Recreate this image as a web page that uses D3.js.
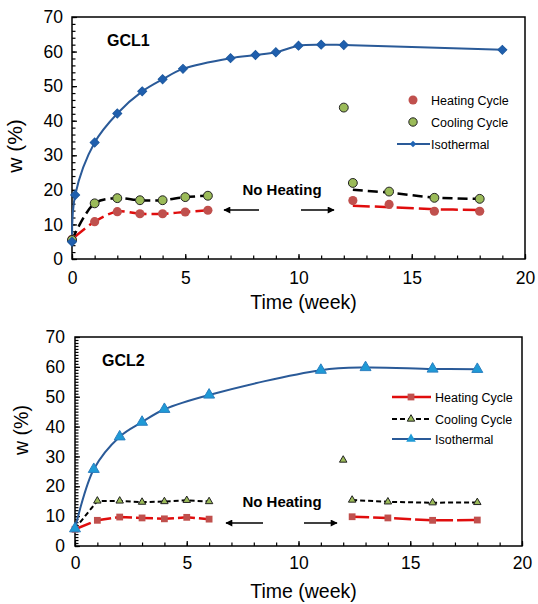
<!DOCTYPE html>
<html>
<head>
<meta charset="utf-8">
<script src="https://cdn.jsdelivr.net/npm/d3@7"></script>
<style>
  body { margin: 0; background: #fff; }
  svg { font-family: "Liberation Sans", Arial, sans-serif; }
</style>
</head>
<body>
<svg id="vis" width="538" height="604"></svg>
<script>
const gcl1IsoWeek = [0, 0.14, 1, 2, 3.1, 4, 4.9, 7, 8.1, 9, 10, 11, 12, 19];
const gcl1IsoW = [5, 18.5, 33.7, 42.1, 48.5, 52, 55, 58.1, 59, 59.8, 61.7, 62, 61.9, 60.5];
const gcl1HeatWeek = [0, 1, 2, 3, 4, 5, 6, 12.4, 14, 16, 18];
const gcl1HeatW = [5.7, 10.8, 13.7, 13.1, 13.1, 13.6, 14.1, 16.9, 15.8, 13.8, 13.8];
const gcl1CoolWeek = [0, 1, 2, 3, 4, 5, 6, 12, 12.4, 14, 16, 18];
const gcl1CoolW = [5.5, 16.1, 17.6, 17.0, 17.0, 17.9, 18.3, 43.8, 22.0, 19.5, 17.7, 17.4];
// dashed fits after the heating break
const gcl1HeatFitWeek = [12.4, 14, 16, 18];
const gcl1HeatFitW = [15.4, 15.0, 14.4, 14.2];
const gcl1CoolFitWeek = [12.4, 14, 16, 18];
const gcl1CoolFitW = [20.0, 19.2, 17.8, 17.4];

const gcl2IsoWeek = [0, 0.84, 2, 3, 4, 6, 11, 13, 16, 18];
const gcl2IsoW = [5.8, 25.7, 36.6, 41.5, 45.8, 50.6, 58.9, 59.8, 59.3, 59.2];
const gcl2HeatWeek = [0, 1, 2, 3, 4, 5, 6, 12.4, 14, 16, 18];
const gcl2HeatW = [5.6, 8.6, 9.7, 9.4, 9.1, 9.6, 9.0, 9.8, 9.4, 8.6, 8.7];
const gcl2CoolWeek = [0, 1, 2, 3, 4, 5, 6, 12, 12.4, 14, 16, 18];
const gcl2CoolW = [5.8, 15.1, 15.1, 14.7, 14.9, 15.3, 14.9, 28.8, 15.4, 14.8, 14.5, 14.6];

const xTicks = [0, 5, 10, 15, 20];
const yTicks = [0, 10, 20, 30, 40, 50, 60, 70];
const legendLabels = ['Heating Cycle', 'Cooling Cycle', 'Isothermal'];

const zip = (xs, ys) => xs.map((x, i) => [x, ys[i]]);

const red = '#c0504d', redLine = '#e00d0d', green = '#9bbb59', blueLine = '#2a5a98';

const svg = d3.select('#vis');

svg.append('defs').append('marker')
    .attr('id', 'arrow')
    .attr('viewBox', '0 0 10 10')
    .attr('refX', 9).attr('refY', 5)
    .attr('markerWidth', 9).attr('markerHeight', 7)
    .attr('markerUnits', 'userSpaceOnUse')
    .attr('orient', 'auto')
  .append('path')
    .attr('d', 'M0,0 L10,5 L0,10 Z')
    .attr('fill', '#000');

function panel(cfg) {
  const x = d3.scaleLinear().domain([0, 20]).range([cfg.left, cfg.right]);
  const y = d3.scaleLinear().domain([0, 70]).range([cfg.bottom, cfg.top]);
  const g = svg.append('g');

  g.append('g')
      .attr('transform', 'translate(0,' + cfg.bottom + ')')
      .call(d3.axisBottom(x).tickValues(d3.range(0, 21)).tickSize(-3.5).tickFormat(''))
      .call(a => a.select('.domain').remove());
  g.append('g')
      .attr('transform', 'translate(0,' + cfg.bottom + ')')
      .call(d3.axisBottom(x).tickValues(xTicks).tickSize(-5).tickPadding(cfg.xPad))
      .call(a => a.select('.domain').remove())
      .call(a => a.selectAll('text').attr('font-size', 17.5).attr('fill', '#000').attr('font-family', null));
  g.append('g')
      .attr('transform', 'translate(' + cfg.left + ',0)')
      .call(d3.axisLeft(y).tickValues(d3.range(0, 71, cfg.yMinor)).tickSize(-3.5).tickFormat(''))
      .call(a => a.select('.domain').remove());
  g.append('g')
      .attr('transform', 'translate(' + cfg.left + ',0)')
      .call(d3.axisLeft(y).tickValues(yTicks).tickSize(-5).tickPadding(cfg.yPad))
      .call(a => a.select('.domain').remove())
      .call(a => a.selectAll('text').attr('font-size', 17.5).attr('fill', '#000').attr('font-family', null));
  g.selectAll('.tick line').attr('stroke', '#000').attr('stroke-width', 1.2);

  g.append('rect')
      .attr('x', cfg.left).attr('y', cfg.top)
      .attr('width', cfg.right - cfg.left).attr('height', cfg.bottom - cfg.top)
      .attr('fill', 'none').attr('stroke', '#000').attr('stroke-width', 1.5);

  g.append('text')
      .attr('x', (cfg.left + cfg.right) / 2 + 5).attr('y', cfg.titleY)
      .attr('text-anchor', 'middle').attr('font-size', 19.5)
      .text('Time (week)');
  g.append('text')
      .attr('transform', 'translate(' + cfg.yTitleX + ',' + cfg.yTitleY + ') rotate(-90)')
      .attr('text-anchor', 'middle').attr('font-size', cfg.yTitleSize)
      .text('w (%)');

  g.append('text')
      .attr('x', cfg.nameX).attr('y', cfg.nameY)
      .attr('font-size', 16).attr('font-weight', 'bold')
      .text(cfg.name);

  g.append('text')
      .attr('x', 282).attr('y', cfg.noHeatY)
      .attr('text-anchor', 'middle').attr('font-size', 15).attr('font-weight', 'bold')
      .text('No Heating');
  g.selectAll('line.arrow')
    .data([[cfg.arrowL[1], cfg.arrowL[0]], [cfg.arrowR[0], cfg.arrowR[1]]])
    .enter()
    .append('line')
      .classed('arrow', true)
      .attr('x1', d => d[0]).attr('x2', d => d[1])
      .attr('y1', cfg.arrowY).attr('y2', cfg.arrowY)
      .attr('stroke', '#000').attr('stroke-width', 1.5)
      .attr('marker-end', 'url(#arrow)');

  return { x, y, g };
}

function drawLine(p, pts, color, width, dash, curve) {
  p.g.append('path')
      .datum(pts)
      .attr('d', d3.line().x(d => p.x(d[0])).y(d => p.y(d[1])).curve(curve || d3.curveLinear))
      .attr('fill', 'none')
      .attr('stroke', color)
      .attr('stroke-width', width)
      .attr('stroke-dasharray', dash);
}

function drawMarkers(p, pts, type, size, fill, stroke, rotate) {
  p.g.selectAll(null)
    .data(pts)
    .enter()
    .append('path')
      .attr('d', d3.symbol().type(type).size(size))
      .attr('transform', d => 'translate(' + p.x(d[0]) + ',' + p.y(d[1]) + ')' + (rotate ? ' rotate(45)' : ''))
      .attr('fill', fill)
      .attr('stroke', stroke || 'none')
      .attr('stroke-width', 1);
}

// ---------- GCL1 ----------
const p1 = panel({
  left: 72, right: 525, top: 17, bottom: 259,
  xPad: 13, yPad: 9, yMinor: 2,
  titleY: 309, yTitleX: 22, yTitleY: 146, yTitleSize: 21,
  name: 'GCL1', nameX: 107, nameY: 46,
  noHeatY: 195, arrowY: 210, arrowL: [224, 259], arrowR: [301, 334]
});

const heat1 = zip(gcl1HeatWeek, gcl1HeatW);
const cool1 = zip(gcl1CoolWeek, gcl1CoolW);
const iso1 = zip(gcl1IsoWeek, gcl1IsoW);

drawLine(p1, heat1.filter(d => d[0] <= 6), redLine, 2.5, '17,5', d3.curveCatmullRom);
drawLine(p1, zip(gcl1HeatFitWeek, gcl1HeatFitW), redLine, 2.5, '17,5', d3.curveCatmullRom);
drawLine(p1, cool1.filter(d => d[0] <= 6), '#000', 2.5, '10,5', d3.curveCatmullRom);
drawLine(p1, zip(gcl1CoolFitWeek, gcl1CoolFitW), '#000', 2.5, '10,5', d3.curveCatmullRom);
drawLine(p1, iso1, blueLine, 2, null, d3.curveCatmullRom);

drawMarkers(p1, heat1, d3.symbolCircle, 66, red);
drawMarkers(p1, cool1, d3.symbolCircle, 62, green, '#222');
drawMarkers(p1, iso1, d3.symbolSquare, 40, '#1f5fae', '#1f5aa0', true);

const leg1 = p1.g.append('g');
const leg1Y = [100, 122, 144];
leg1.selectAll('text')
  .data(legendLabels)
  .enter()
  .append('text')
    .attr('x', 431).attr('y', (d, i) => leg1Y[i] + 4.5)
    .attr('font-size', 12.5)
    .text(d => d);
leg1.append('circle').attr('cx', 413).attr('cy', leg1Y[0]).attr('r', 4.5).attr('fill', red);
leg1.append('circle').attr('cx', 413).attr('cy', leg1Y[1]).attr('r', 4.2).attr('fill', green).attr('stroke', '#222');
leg1.append('line').attr('x1', 397).attr('x2', 430).attr('y1', leg1Y[2]).attr('y2', leg1Y[2])
    .attr('stroke', blueLine).attr('stroke-width', 2);
leg1.append('path').attr('d', d3.symbol().type(d3.symbolSquare).size(22)())
    .attr('transform', 'translate(413,' + leg1Y[2] + ') rotate(45)').attr('fill', '#1f64b4');

// ---------- GCL2 ----------
const p2 = panel({
  left: 75, right: 522, top: 337, bottom: 546,
  xPad: 11, yPad: 10, yMinor: 1,
  titleY: 598, yTitleX: 28, yTitleY: 430, yTitleSize: 19.5,
  name: 'GCL2', nameX: 102, nameY: 366,
  noHeatY: 507, arrowY: 523, arrowL: [226, 263], arrowR: [304, 337]
});

const heat2 = zip(gcl2HeatWeek, gcl2HeatW);
const cool2 = zip(gcl2CoolWeek, gcl2CoolW);
const iso2 = zip(gcl2IsoWeek, gcl2IsoW);

drawLine(p2, heat2.filter(d => d[0] <= 6), redLine, 2.5, '17,4');
drawLine(p2, heat2.filter(d => d[0] > 12.2), redLine, 2.5, '17,4');
drawLine(p2, cool2.filter(d => d[0] <= 6), '#000', 2, '5,3');
drawLine(p2, cool2.filter(d => d[0] > 12.2), '#000', 2, '5,3');
drawLine(p2, iso2, blueLine, 2, null, d3.curveCatmullRom);

drawMarkers(p2, heat2, d3.symbolSquare, 46, red);
drawMarkers(p2, cool2, d3.symbolTriangle, 24, green, '#222');
drawMarkers(p2, iso2, d3.symbolTriangle, 52, '#1f9ad6', '#2a7fc0');

const leg2 = p2.g.append('g');
const leg2Y = [397, 419, 439];
leg2.selectAll('text')
  .data(legendLabels)
  .enter()
  .append('text')
    .attr('x', 435).attr('y', (d, i) => leg2Y[i] + 4.5)
    .attr('font-size', 12.5)
    .text(d => d);
leg2.append('line').attr('x1', 392).attr('x2', 431).attr('y1', leg2Y[0]).attr('y2', leg2Y[0])
    .attr('stroke', redLine).attr('stroke-width', 2.5);
leg2.append('path').attr('d', d3.symbol().type(d3.symbolSquare).size(46)())
    .attr('transform', 'translate(411,' + leg2Y[0] + ')').attr('fill', red);
leg2.append('line').attr('x1', 392).attr('x2', 431).attr('y1', leg2Y[1]).attr('y2', leg2Y[1])
    .attr('stroke', '#000').attr('stroke-width', 2).attr('stroke-dasharray', '5,3');
leg2.append('path').attr('d', d3.symbol().type(d3.symbolTriangle).size(24)())
    .attr('transform', 'translate(411,' + leg2Y[1] + ')').attr('fill', green).attr('stroke', '#222');
leg2.append('line').attr('x1', 392).attr('x2', 431).attr('y1', leg2Y[2]).attr('y2', leg2Y[2])
    .attr('stroke', blueLine).attr('stroke-width', 2);
leg2.append('path').attr('d', d3.symbol().type(d3.symbolTriangle).size(40)())
    .attr('transform', 'translate(411,' + leg2Y[2] + ')').attr('fill', '#1f9ad6');
</script>
</body>
</html>
